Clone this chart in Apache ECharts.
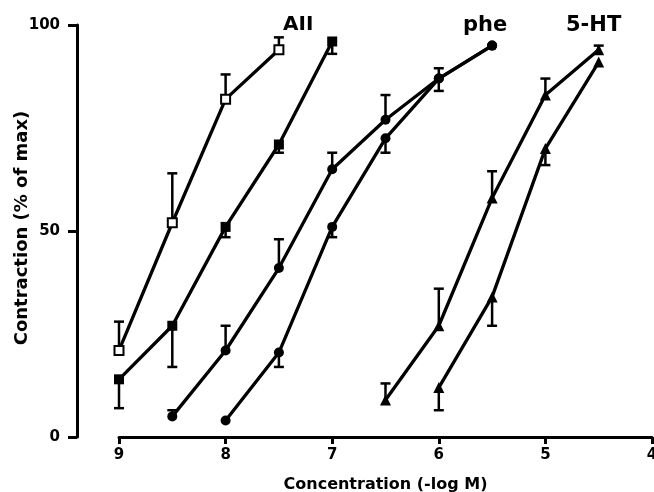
<!DOCTYPE html>
<html>
<head>
<meta charset="utf-8">
<script src="https://cdn.jsdelivr.net/npm/echarts@6/dist/echarts.min.js"></script>
<style>
  html, body { margin: 0; padding: 0; background: #fff; }
  #chart { width: 654px; height: 492px; }
</style>
</head>
<body>
<div id="chart"></div>
<script>
// concentration (-log M), response (% of max), error bar end
const aiiOpenX = [9, 8.5, 8, 7.5];
const aiiOpenY = [21, 52, 82, 94];
const aiiOpenErr = [28, 64, 88, 97];

const aiiFillX = [9, 8.5, 8, 7.5, 7];
const aiiFillY = [14, 27, 51, 71, 96];
const aiiFillErr = [7, 17, 48.5, 69, 93];

const phe1X = [8.5, 8, 7.5, 7, 6.5, 6, 5.5];
const phe1Y = [5, 21, 41, 65, 77, 87, 95];
const phe1Err = [6.5, 27, 48, 69, 83, 89.5, null];

const phe2X = [8, 7.5, 7, 6.5, 6, 5.5];
const phe2Y = [4, 20.5, 51, 72.5, 87, 95];
const phe2Err = [null, 17, 48.5, 69, 84, null];

const ht1X = [6.5, 6, 5.5, 5, 4.5];
const ht1Y = [9, 27, 58, 83, 94];
const ht1Err = [13, 36, 64.5, 87, 95];

const ht2X = [6, 5.5, 5, 4.5];
const ht2Y = [12, 34, 70, 91];
const ht2Err = [6.5, 27, 66, null];

const xTicks = [9, 8, 7, 6, 5, 4];
const yTicks = [0, 50, 100];

const FONT = '"DejaVu Sans", "Liberation Sans", sans-serif';

const chart = echarts.init(document.getElementById('chart'));

function pts(xs, ys) {
  return xs.map((x, i) => [x, ys[i]]);
}

function errData(xs, ys, es) {
  return xs.map((x, i) => [x, ys[i], es[i]]).filter(d => d[2] != null);
}

// curve + its error bars
function curve(xs, ys, es, symbol, fill, size) {
  return [
    {
      type: 'line',
      data: pts(xs, ys),
      symbol: symbol,
      symbolSize: size,
      showAllSymbol: true,
      lineStyle: { color: '#000', width: 3.3 },
      itemStyle: { color: fill, borderColor: '#000', borderWidth: fill === '#fff' ? 2 : 0 },
      z: 3,
      silent: true
    },
    {
      type: 'custom',
      data: errData(xs, ys, es),
      encode: { x: 0, y: [1, 2] },
      z: 2,
      silent: true,
      renderItem: function (params, api) {
        const p1 = api.coord([api.value(0), api.value(1)]);
        const p2 = api.coord([api.value(0), api.value(2)]);
        const hw = 5;
        return {
          type: 'group',
          children: [
            { type: 'line', shape: { x1: p1[0], y1: p1[1], x2: p2[0], y2: p2[1] },
              style: { stroke: '#000', lineWidth: 2.5 } },
            { type: 'line', shape: { x1: p2[0] - hw, y1: p2[1], x2: p2[0] + hw, y2: p2[1] },
              style: { stroke: '#000', lineWidth: 2.5 } }
          ]
        };
      }
    }
  ];
}

const series = [].concat(
  curve(aiiOpenX, aiiOpenY, aiiOpenErr, 'rect', '#fff', 9),
  curve(aiiFillX, aiiFillY, aiiFillErr, 'rect', '#000', 10),
  curve(phe1X, phe1Y, phe1Err, 'circle', '#000', 10),
  curve(phe2X, phe2Y, phe2Err, 'circle', '#000', 10),
  curve(ht1X, ht1Y, ht1Err, 'triangle', '#000', 11),
  curve(ht2X, ht2Y, ht2Err, 'triangle', '#000', 11)
);

chart.setOption({
  animation: false,
  backgroundColor: '#fff',
  grid: { left: 119, right: 2, top: 25, bottom: 55, outerBoundsMode: 'none' },
  xAxis: {
    type: 'value',
    min: 4,
    max: 9,
    interval: 1,
    inverse: true,
    offset: 3,
    name: 'Concentration (-log M)',
    nameLocation: 'middle',
    nameGap: 37,
    nameTextStyle: { fontFamily: FONT, fontWeight: 'bold', fontSize: 16, color: '#000' },
    axisLine: { lineStyle: { color: '#000', width: 3 } },
    axisTick: { show: true, length: 7, lineStyle: { color: '#000', width: 3 } },
    axisLabel: {
      margin: 8,
      fontFamily: FONT, fontWeight: 'bold', fontSize: 15, color: '#000',
      formatter: v => xTicks.includes(v) ? String(v) : ''
    },
    splitLine: { show: false }
  },
  yAxis: {
    type: 'value',
    min: 0,
    max: 100,
    interval: 50,
    offset: 42,
    axisLine: { show: true, lineStyle: { color: '#000', width: 3 } },
    axisTick: { show: true, length: 9, lineStyle: { color: '#000', width: 3 } },
    axisLabel: {
      margin: 17,
      fontFamily: FONT, fontWeight: 'bold', fontSize: 15, color: '#000',
      formatter: v => yTicks.includes(v) ? String(v) : ''
    },
    splitLine: { show: false }
  },
  graphic: [
    { type: 'text', x: 22, y: 228, rotation: Math.PI / 2,
      style: { text: 'Contraction (% of max)', font: 'bold 18px ' + FONT, fill: '#000',
               align: 'center', verticalAlign: 'middle' } },
    { type: 'text', left: 283, top: 15,
      style: { text: 'AII', font: 'bold 20px ' + FONT, fill: '#000' } },
    { type: 'text', left: 463, top: 15,
      style: { text: 'phe', font: 'bold 21px ' + FONT, fill: '#000' } },
    { type: 'text', left: 566, top: 15,
      style: { text: '5-HT', font: 'bold 21px ' + FONT, fill: '#000' } }
  ],
  series: series
});
</script>
</body>
</html>
